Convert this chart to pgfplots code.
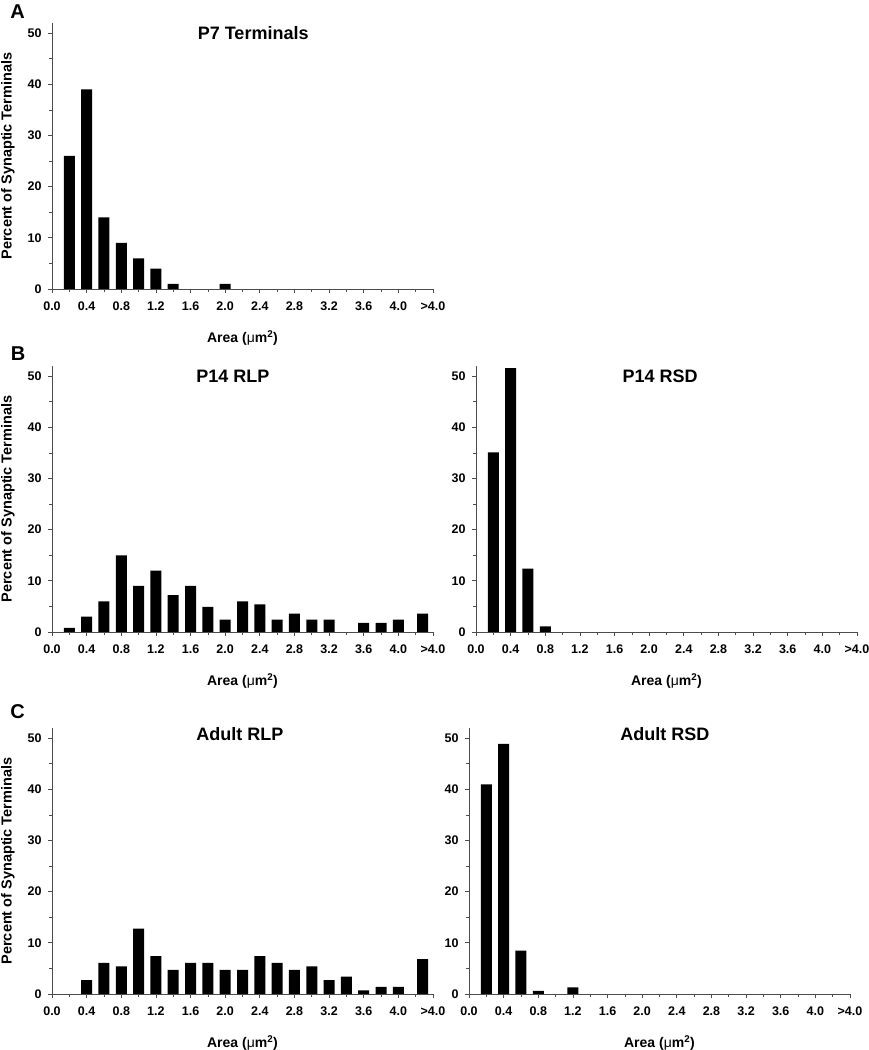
\documentclass[border=0pt]{standalone}
\usepackage{pgfplots}
\pgfplotsset{compat=1.18}
\usepackage{fontspec}
\setmainfont{Liberation Sans}

\tikzset{
  ttl/.style={font=\fontsize{18}{20}\selectfont\bfseries, anchor=center},
  bars/.style={fill=black, draw=none},
}
\pgfplotsset{
  hist/.style={
    scale only axis, width=381pt, height=266pt,
    anchor=south west,
    xmin=0, xmax=4.4, ymin=0, ymax=52,
    axis lines=left,
    axis line style={black!70, line width=0.8pt, -},
    xtick={0,0.4,0.8,1.2,1.6,2.0,2.4,2.8,3.2,3.6,4.0,4.4},
    xticklabels={0.0,0.4,0.8,1.2,1.6,2.0,2.4,2.8,3.2,3.6,4.0,{>4.0}},
    minor xtick={0.2,0.6,1.0,1.4,1.8,2.2,2.6,3.0,3.4,3.8,4.2},
    ytick={0,10,20,30,40,50},
    minor ytick={5,15,25,35,45},
    tick align=outside,
    major tick length=4pt, minor tick length=3pt,
    every tick/.style={black!70, line width=0.7pt},
    every tick label/.append style={font=\fontsize{12.5}{14}\selectfont\bfseries},
    xticklabel style={yshift=-5pt},
    yticklabel style={xshift=-3pt},
    /pgf/number format/assume math mode=true,
    xlabel={Area ({\mdseries μ}m\textsuperscript{2})},
    xlabel style={font=\fontsize{14}{16}\selectfont\bfseries,
      at={(axis description cs:0.5,-0.184)}, anchor=center},
    ylabel style={font=\fontsize{14.5}{16}\selectfont\bfseries,
      at={(axis description cs:-0.1155,0.5)}, anchor=center, rotate=0},
    ybar, bar width=11pt,
    clip=false,
  },
}

\begin{document}
\begin{tikzpicture}
\useasboundingbox (0,0) rectangle (869pt,1050pt);

% Panel A
\begin{axis}[hist, at={(52pt,761pt)}, ylabel={Percent of Synaptic Terminals}]
\addplot[bars] coordinates {(0.2,26) (0.4,39) (0.6,14) (0.8,9) (1.0,6) (1.2,4) (1.4,1) (2.0,1)};
\node[ttl] at (axis description cs:0.528,0.962) {P7 Terminals};
\end{axis}

% Panel B left
\begin{axis}[hist, at={(52pt,418pt)}, ylabel={Percent of Synaptic Terminals}]
\addplot[bars] coordinates {(0.2,0.8) (0.4,3) (0.6,6) (0.8,15) (1.0,9) (1.2,12) (1.4,7.2) (1.6,9) (1.8,4.9) (2.0,2.4) (2.2,6) (2.4,5.4) (2.6,2.4) (2.8,3.6) (3.0,2.4) (3.2,2.4) (3.6,1.8) (3.8,1.8) (4.0,2.4) (4.28,3.6)};
\node[ttl] at (axis description cs:0.475,0.962) {P14 RLP};
\end{axis}

% Panel B right
\begin{axis}[hist, at={(476pt,418pt)}]
\addplot[bars] coordinates {(0.2,35.1) (0.4,51.6) (0.6,12.4) (0.8,1.1)};
\node[ttl] at (axis description cs:0.483,0.962) {P14 RSD};
\end{axis}

% Panel C left
\begin{axis}[hist, at={(52pt,56pt)}, ylabel={Percent of Synaptic Terminals}]
\addplot[bars] coordinates {(0.4,2.7) (0.6,6.1) (0.8,5.4) (1.0,12.8) (1.2,7.4) (1.4,4.7) (1.6,6.1) (1.8,6.1) (2.0,4.7) (2.2,4.7) (2.4,7.4) (2.6,6.1) (2.8,4.7) (3.0,5.4) (3.2,2.7) (3.4,3.4) (3.6,0.7) (3.8,1.4) (4.0,1.4) (4.28,6.8)};
\node[ttl] at (axis description cs:0.493,0.977) {Adult RLP};
\end{axis}

% Panel C right
\begin{axis}[hist, at={(469pt,56pt)}]
\addplot[bars] coordinates {(0.2,41) (0.4,48.9) (0.6,8.5) (0.8,0.6) (1.2,1.3)};
\node[ttl] at (axis description cs:0.514,0.977) {Adult RSD};
\end{axis}

% Panel letters
\node[font=\fontsize{20}{22}\selectfont\bfseries] at (17.5pt,1038pt) {A};
\node[font=\fontsize{20}{22}\selectfont\bfseries] at (18pt,696pt) {B};
\node[font=\fontsize{20}{22}\selectfont\bfseries] at (17.5pt,338pt) {C};
\end{tikzpicture}
\end{document}
